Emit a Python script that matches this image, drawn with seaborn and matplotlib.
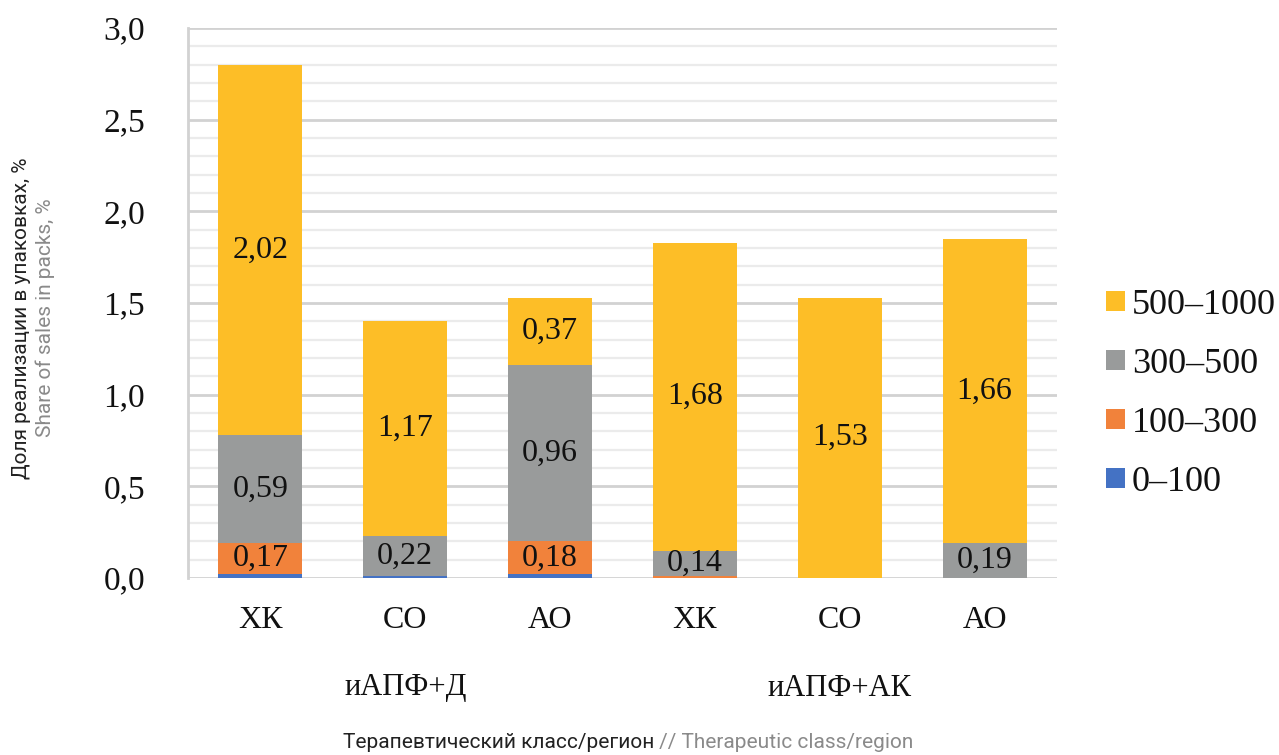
import numpy as np
import pandas as pd
import matplotlib
matplotlib.use('Agg')
import matplotlib.pyplot as plt
import seaborn as sns
from matplotlib.patches import Patch
from matplotlib.ticker import MultipleLocator, FuncFormatter

# data
categories = ['ХК', 'СО', 'АО', 'ХК', 'СО', 'АО']
groups = ['иАПФ+Д', 'иАПФ+АК']
group_centers = [1, 4]
series = ['0–100', '100–300', '300–500', '500–1000']
v_0_100 = [0.02, 0.01, 0.02, 0.00, 0.00, 0.00]
v_100_300 = [0.17, 0.00, 0.18, 0.01, 0.00, 0.00]
v_300_500 = [0.59, 0.22, 0.96, 0.14, 0.00, 0.19]
v_500_1000 = [2.02, 1.17, 0.37, 1.68, 1.53, 1.66]
colors = ['#4472C4', '#F1823B', '#999B9B', '#FDBE27']

SERIF = ['Liberation Serif', 'DejaVu Serif']
SANS = ['Liberation Sans Narrow', 'Roboto', 'DejaVu Sans']

sns.set_style('white')
plt.rcParams['font.family'] = SERIF
plt.rcParams['text.color'] = '#111111'
plt.rcParams['xtick.color'] = '#111111'
plt.rcParams['ytick.color'] = '#111111'

values = [v_0_100, v_100_300, v_300_500, v_500_1000]
pos = [str(i) for i in range(len(categories))]
rows = []
for s, vals in zip(series, values):
    for p, v in zip(pos, vals):
        rows.append({'pos': p, 'series': s, 'value': v})
df = pd.DataFrame(rows)
df['top'] = df.groupby('pos')['value'].cumsum()
df['bottom'] = df['top'] - df['value']

fig = plt.figure(figsize=(12.79, 7.55), dpi=100)
ax = fig.add_axes([188 / 1279, 1 - 578 / 755, (1057 - 188) / 1279, 550 / 755])

# stacked bars: draw cumulative tops from the highest series down
for s, c in reversed(list(zip(series, colors))):
    sub = df[df['series'] == s]
    sns.barplot(data=sub, x='pos', y='top', order=pos, color=c, saturation=1,
                width=0.58, errorbar=None, ax=ax, zorder=2, linewidth=0)

for _, r in df.iterrows():
    if r['value'] >= 0.1:
        ax.text(int(r['pos']), (r['top'] + r['bottom']) / 2,
                f"{r['value']:.2f}".replace('.', ','),
                ha='center', va='center', fontsize=23, family=SERIF, color='#111111', zorder=3)

ax.set_xlim(-0.5, 5.5)
ax.set_ylim(0, 3.0)
ax.yaxis.set_major_locator(MultipleLocator(0.5))
ax.yaxis.set_minor_locator(MultipleLocator(0.1))
ax.yaxis.set_major_formatter(FuncFormatter(lambda v, p: f'{v:.1f}'.replace('.', ',')))
ax.grid(axis='y', which='minor', color='#ebebeb', linewidth=1.6, zorder=0)
ax.grid(axis='y', which='major', color='#d2d2d2', linewidth=2.0, zorder=0)
ax.set_axisbelow(True)
for side in ['top', 'right', 'bottom']:
    ax.spines[side].set_visible(False)
ax.spines['left'].set_color('#d2d2d2')
ax.spines['left'].set_linewidth(2.0)
ax.tick_params(axis='both', which='both', length=0)
ax.tick_params(axis='y', pad=31, labelsize=24)
ax.tick_params(axis='x', pad=20, labelsize=23)
ax.set_xticks(range(len(categories)))
ax.set_xticklabels(categories)
ax.set_xlabel('')
ax.set_ylabel('')

for g, gc in zip(groups, group_centers):
    ax.text(gc, -0.2, g, transform=ax.get_xaxis_transform(), ha='center',
            va='center', fontsize=22, family=SERIF)

# axis titles, two colours
t = fig.text(343 / 1279, 1 - 743 / 755, 'Терапевтический класс/регион', ha='left',
             va='center', fontsize=15, family=SANS, color='#222222')
fig.canvas.draw()
ax.annotate(' // Therapeutic class/region', xy=(1, 0), xycoords=t, ha='left', va='bottom',
            fontsize=15, family=SANS, color='#8a8a8a')
fig.text(22 / 1279, 1 - 318 / 755, 'Доля реализации в упаковках, %', rotation=90,
         ha='center', va='center', fontsize=15, family=SANS, color='#222222')
fig.text(45 / 1279, 1 - 318 / 755, 'Share of sales in packs, %', rotation=90,
         ha='center', va='center', fontsize=15, family=SANS, color='#8a8a8a')

handles = [Patch(facecolor=c, edgecolor='none') for c in reversed(colors)]
fig.legend(handles, list(reversed(series)), loc='center left',
           bbox_to_anchor=(1092 / 1279, 1 - 394 / 755), frameon=False,
           prop={'family': SERIF, 'size': 26}, handlelength=0.5, handleheight=0.5,
           handletextpad=0.2, labelspacing=0.72, borderaxespad=0)

fig.savefig('out.png', dpi=100)
